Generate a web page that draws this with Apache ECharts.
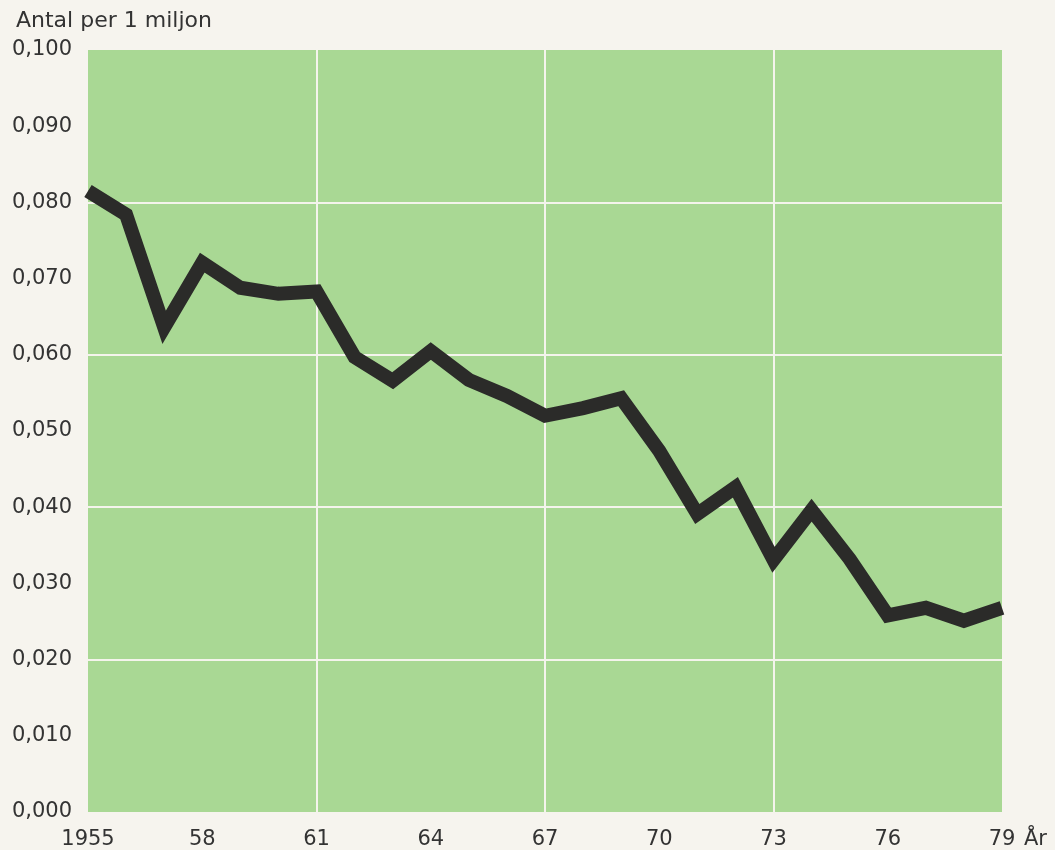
<!DOCTYPE html>
<html>
<head>
<meta charset="utf-8">
<script src="https://cdn.jsdelivr.net/npm/echarts@6/dist/echarts.min.js"></script>
<style>
    html, body { margin: 0; padding: 0; background: #f6f4ee; }
    #chart { width: 1055px; height: 850px; }
</style>
</head>
<body>
<div id="chart"></div>
<script>
// years 1955..1979, values
const years = [1955, 1956, 1957, 1958, 1959, 1960, 1961, 1962, 1963, 1964, 1965, 1966,
    1967, 1968, 1969, 1970, 1971, 1972, 1973, 1974, 1975, 1976, 1977, 1978, 1979];
const values = [0.0815, 0.0784, 0.0636, 0.0721, 0.0688, 0.0680, 0.0683, 0.0597, 0.0566, 0.0605,
    0.0567, 0.0546, 0.0520, 0.0530, 0.0543, 0.0474, 0.0391, 0.0426, 0.0331, 0.0396,
    0.0332, 0.0258, 0.0268, 0.0251, 0.0268];
const xTickYears = [1955, 1958, 1961, 1964, 1967, 1970, 1973, 1976, 1979];
const xTickLabels = ['1955', '58', '61', '64', '67', '70', '73', '76', '79'];

const firstYear = years[0];
const lineData = years.map((y, i) => [y - firstYear, values[i]]);

var myChart = echarts.init(document.getElementById('chart'));

const labelFont = {
    fontFamily: 'DejaVu Sans',
    fontSize: 21,
    color: '#333333'
};

myChart.setOption({
    backgroundColor: '#f6f4ee',
    animation: false,
    title: {
        text: 'Antal per 1 miljon',
        left: 11,
        top: 5,
        textStyle: {
            fontFamily: 'DejaVu Sans',
            fontSize: 22,
            fontWeight: 'normal',
            color: '#333333'
        }
    },
    grid: {
        left: 88,
        right: 53,
        top: 50,
        bottom: 38,
        show: true,
        backgroundColor: '#a9d894',
        borderWidth: 0
    },
    xAxis: [
        {
            type: 'value',
            min: 0,
            max: 24,
            interval: 3,
            name: 'År',
            nameLocation: 'end',
            nameGap: 22,
            nameTextStyle: Object.assign({}, labelFont, {
                verticalAlign: 'top',
                padding: [17, 0, 0, 0]
            }),
            axisLine: { show: false },
            axisTick: { show: false },
            splitLine: { show: false },
            axisLabel: Object.assign({}, labelFont, {
                margin: 17,
                formatter: function (v) {
                    const idx = xTickYears.indexOf(v + firstYear);
                    return idx >= 0 ? xTickLabels[idx] : '';
                }
            })
        },
        {
            // only for the white vertical grid lines (every 6 years)
            type: 'value',
            min: 0,
            max: 24,
            interval: 6,
            axisLine: { show: false },
            axisTick: { show: false },
            axisLabel: { show: false },
            splitLine: {
                show: true,
                showMinLine: false,
                showMaxLine: false,
                lineStyle: { color: '#f4f4ec', width: 2 }
            }
        }
    ],
    yAxis: [
        {
            type: 'value',
            min: 0,
            max: 0.1,
            interval: 0.01,
            axisLine: { show: false },
            axisTick: { show: false },
            splitLine: { show: false },
            axisLabel: Object.assign({}, labelFont, {
                margin: 16,
                formatter: function (v) {
                    return v.toFixed(3).replace('.', ',');
                }
            })
        },
        {
            // only for the white horizontal grid lines (every 0,020)
            type: 'value',
            position: 'left',
            min: 0,
            max: 0.1,
            interval: 0.02,
            axisLine: { show: false },
            axisTick: { show: false },
            axisLabel: { show: false },
            splitLine: {
                show: true,
                showMinLine: false,
                showMaxLine: false,
                lineStyle: { color: '#f4f4ec', width: 2 }
            }
        }
    ],
    series: [
        {
            type: 'line',
            data: lineData,
            xAxisIndex: 0,
            yAxisIndex: 0,
            symbol: 'none',
            smooth: false,
            lineStyle: {
                color: '#2b2b29',
                width: 14,
                join: 'miter',
                cap: 'butt'
            }
        }
    ]
});
</script>
</body>
</html>
